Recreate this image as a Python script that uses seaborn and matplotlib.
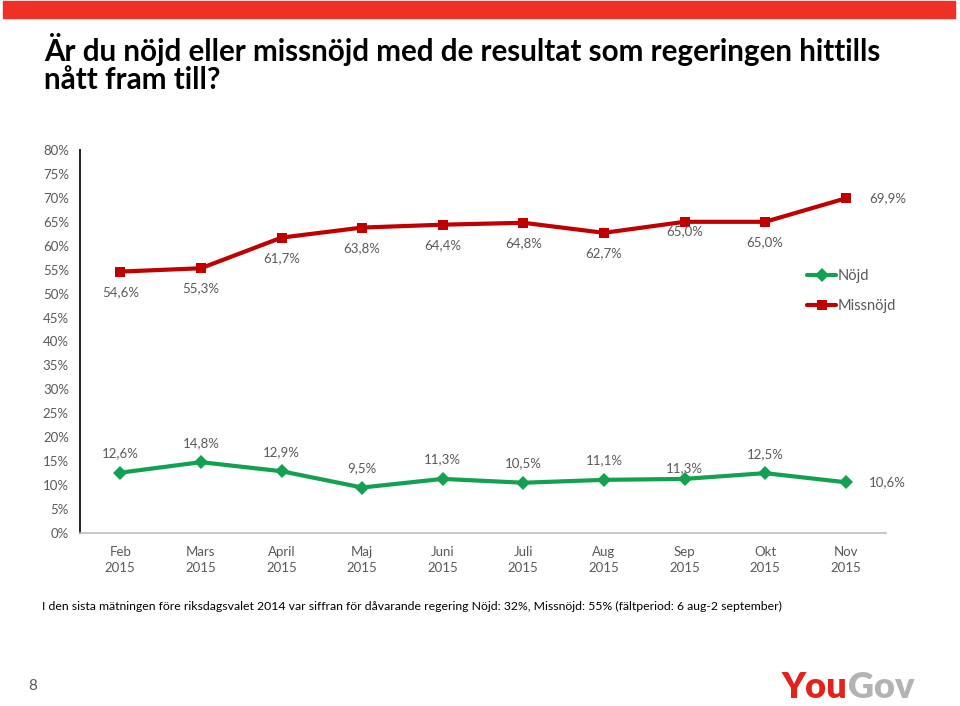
import matplotlib
matplotlib.use("Agg")
import matplotlib.pyplot as plt
import seaborn as sns
import pandas as pd
from matplotlib.patches import Rectangle

# data
months = ["Feb\n2015", "Mars\n2015", "April\n2015", "Maj\n2015", "Juni\n2015",
          "Juli\n2015", "Aug\n2015", "Sep\n2015", "Okt\n2015", "Nov\n2015"]
nojd = [12.6, 14.8, 12.9, 9.5, 11.3, 10.5, 11.1, 11.3, 12.5, 10.6]
missnojd = [54.6, 55.3, 61.7, 63.8, 64.4, 64.8, 62.7, 65.0, 65.0, 69.9]
yticks = list(range(0, 81, 5))

title = "Är du nöjd eller missnöjd med de resultat som regeringen hittills\nnått fram till?"
footnote = ("I den sista mätningen före riksdagsvalet 2014 var siffran för dåvarande regering "
            "Nöjd: 32%, Missnöjd: 55% (fältperiod: 6 aug-2 september)")

sns.set_theme(style="white")
plt.rcParams['font.family'] = ['Lato', 'DejaVu Sans']

GRAY = "#595959"
GREEN = "#12a150"
RED = "#c00000"

df = pd.DataFrame({
    "month": months * 2,
    "x": list(range(len(months))) * 2,
    "value": nojd + missnojd,
    "serie": ["Nöjd"] * len(months) + ["Missnöjd"] * len(months),
})

fig = plt.figure(figsize=(9.6, 7.06), dpi=100)
ax = fig.add_axes([80 / 960, 1 - 533 / 706, 806 / 960, 383 / 706])

sns.lineplot(data=df, x="x", y="value", hue="serie", style="serie",
             palette={"Nöjd": GREEN, "Missnöjd": RED},
             markers={"Nöjd": "D", "Missnöjd": "s"},
             dashes=False, linewidth=3, markersize=7, markeredgewidth=0,
             ax=ax)

ax.set_xlim(-0.5, len(months) - 0.5)
ax.set_ylim(0, 80)
ax.set_yticks(yticks)
ax.set_yticklabels([f"{t}%" for t in yticks], color=GRAY, fontsize=9.5)
ax.set_xticks(range(len(months)))
ax.set_xticklabels(months, color=GRAY, fontsize=9.5, linespacing=1.45)
ax.tick_params(axis="both", length=0)
ax.tick_params(axis="x", pad=9)
ax.tick_params(axis="y", pad=8)
ax.set_xlabel("")
ax.set_ylabel("")

for s in ["top", "right"]:
    ax.spines[s].set_visible(False)
ax.spines["left"].set_color("#222222")
ax.spines["left"].set_linewidth(1.4)
ax.spines["bottom"].set_color("#bfbfbf")
ax.spines["bottom"].set_linewidth(1.2)

# data labels (offsets in points)
def fmt(v):
    return f"{v:.1f}%".replace(".", ",")

n = len(months)
for i, v in enumerate(missnojd):
    if i == n - 1:
        off, ha = (17, 0), "left"
    elif i == 7:
        off, ha = (0, -7), "center"
    else:
        off, ha = (0, -14.5), "center"
    ax.annotate(fmt(v), (i, v), xytext=off, textcoords="offset points",
                ha=ha, va="center", color=GRAY, fontsize=9.5)

for i, v in enumerate(nojd):
    if i == n - 1:
        off, ha = (17, 0), "left"
    elif i == 7:
        off, ha = (0, 7.5), "center"
    else:
        off, ha = (0, 14), "center"
    ax.annotate(fmt(v), (i, v), xytext=off, textcoords="offset points",
                ha=ha, va="center", color=GRAY, fontsize=9.5)

leg = ax.legend(loc="upper left", bbox_to_anchor=(0.895, 0.705), frameon=False,
                fontsize=10.5, handlelength=2.0, handletextpad=0.1,
                labelspacing=1.1, borderaxespad=0)
for t in leg.get_texts():
    t.set_color(GRAY)
for h in leg.legend_handles:
    h.set_linewidth(3)

# page decorations
fig.patches.append(Rectangle((3 / 960, 1 - 18 / 706), 952 / 960, 17 / 706,
                             transform=fig.transFigure, color="#ee3124", zorder=0))
fig.text(44 / 960, 1 - 33 / 706, title, ha="left", va="top", fontsize=21.3,
         fontweight="bold", color="black", linespacing=0.98)
fig.text(42 / 960, 1 - 606 / 706, footnote, ha="left", va="center", fontsize=8.85,
         color="black")
fig.text(33 / 960, 1 - 686 / 706, "8", ha="center", va="center", fontsize=11,
         color=GRAY)

you = fig.text(782 / 960, 1 - 688 / 706, "You", ha="left", va="center", fontsize=26,
               fontweight="heavy", color="#e2231a")
fig.canvas.draw()
bb = you.get_window_extent()
fig.text(bb.x1 / fig.bbox.width, 1 - 688 / 706, "Gov", ha="left", va="center",
         fontsize=26, fontweight="heavy", color="#b3b3b3")

fig.savefig("out.png", dpi=100)
